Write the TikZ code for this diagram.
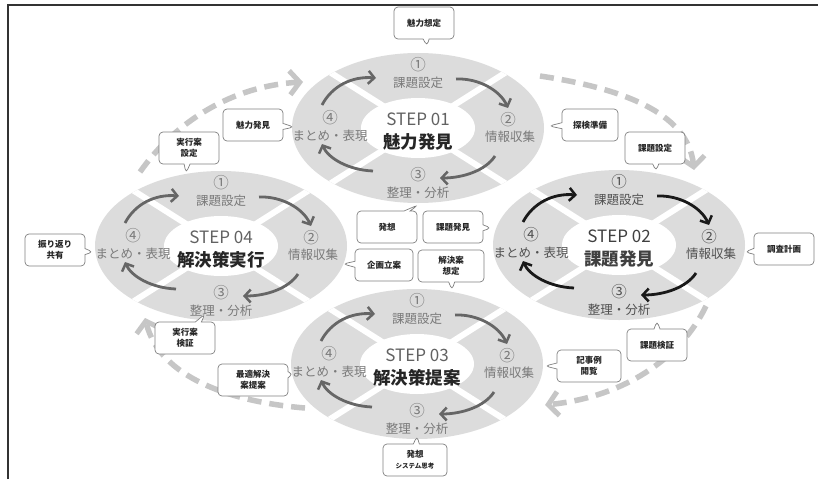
\documentclass[tikz,border=0pt]{standalone}
\usepackage{fontspec}
\setmainfont{Noto Sans CJK JP}
\usetikzlibrary{arrows.meta,shapes.callouts}
\definecolor{ringgray}{HTML}{DCDCDC}
\definecolor{dashgray}{HTML}{C6C6C6}
\definecolor{lblgray}{HTML}{7A7A7A}
\definecolor{arrgray}{HTML}{666666}
\definecolor{darklbl}{HTML}{505050}
\definecolor{framecol}{HTML}{333333}
\tikzset{
  ringarrow/.style={line width=2.8pt, -{Straight Barb[length=6pt,width=13pt,line width=2.5pt]}},
  bigdash/.style={dashgray, line width=5.5pt, dash pattern=on 14pt off 8pt, -{Straight Barb[length=10pt,width=24pt,line width=5pt]}},
  lbl/.style={font=\fontsize{12.5}{14}\selectfont, inner sep=0pt},
  numlbl/.style={font=\fontsize{15.5}{16}\selectfont, inner sep=0pt},
  steplbl/.style={font=\fontsize{17}{19}\selectfont, inner sep=0pt},
  titlelbl/.style={font=\fontsize{17.5}{19}\selectfont\bfseries, inner sep=0pt},
  bubble/.style={rectangle callout, rounded corners=4pt, draw=black!50, fill=white, line width=0.7pt,
    font=\fontsize{8.5}{11}\selectfont\bfseries, text=black!85, align=center,
    minimum width=60pt, minimum height=32pt, inner sep=2pt, callout pointer width=6pt},
}
% #1 cx, #2 cy, #3 label colour, #4 arrow colour, #5 step text, #6 title, #7 title colour, #8 name
\newcommand\stepring[8]{%
\begin{scope}[shift={(#1,#2)}]
  \fill[ringgray] (0,0) ellipse [x radius=126, y radius=75];
  \begin{scope}
    \clip (0,0) ellipse [x radius=126, y radius=75];
    \draw[white, line width=6pt] (-150,-95) -- (150,95);
    \draw[white, line width=6pt] (-150,95) -- (150,-95);
  \end{scope}
  \fill[white] (0,0) ellipse [x radius=57, y radius=30];
  \node[numlbl,text=#3] (#8-c1) at (0,-63) {①};
  \node[lbl,text=#3] (#8-t1) at (0,-45) {課題設定};
  \node[numlbl,text=#3] (#8-c2) at (90,-8) {②};
  \node[lbl,text=#3] (#8-t2) at (92,9) {情報収集};
  \node[numlbl,text=#3] (#8-c3) at (0,47) {③};
  \node[lbl,text=#3] (#8-t3) at (0,65) {整理・分析};
  \node[numlbl,text=#3] (#8-c4) at (-88,-10) {④};
  \node[lbl,text=#3] (#8-t4) at (-88,8) {まとめ・表現};
  \node[steplbl,text=#3!80!black] (#8-s) at (0,-9) {#5};
  \node[titlelbl,text=#7] (#8-n) at (0,14) {#6};
  \coordinate (#8-a1s) at (-96,-23); \coordinate (#8-a1e) at (-42,-50);
  \coordinate (#8-a2s) at (38,-49);  \coordinate (#8-a2e) at (90,-20);
  \coordinate (#8-a3s) at (77,28);   \coordinate (#8-a3e) at (22,50);
  \coordinate (#8-a4s) at (-45,43);  \coordinate (#8-a4e) at (-96,16);
  \draw[ringarrow,#4] (#8-a1s) .. controls (-86,-42) and (-66,-52) .. (#8-a1e);
  \draw[ringarrow,#4] (#8-a2s) .. controls (60,-50) and (82,-38) .. (#8-a2e);
  \draw[ringarrow,#4] (#8-a3s) .. controls (68,42) and (46,50) .. (#8-a3e);
  \draw[ringarrow,#4] (#8-a4s) .. controls (-70,42) and (-90,30) .. (#8-a4e);
\end{scope}}
\begin{document}
\begin{tikzpicture}[x=1pt,y=-1pt]
\useasboundingbox (0,0) rectangle (818,479);
\fill[white] (0,0) rectangle (818,479);
\draw[framecol, line width=2pt] (8,479) -- (8,5) -- (818,5);

% dashed cycle arrows
\coordinate (d1s) at (140,172); \coordinate (d1e) at (303,82);
\coordinate (d2s) at (540,76);  \coordinate (d2e) at (694,170);
\coordinate (d3s) at (706,306); \coordinate (d3e) at (545,405);
\coordinate (d4s) at (305,408); \coordinate (d4e) at (145,318);
\draw[bigdash] (d1s) .. controls (175,122) and (232,86) .. (d1e);
\draw[bigdash] (d2s) .. controls (620,88) and (688,112) .. (d2e);
\draw[bigdash] (d3s) .. controls (680,360) and (622,397) .. (d3e);
\draw[bigdash] (d4s) .. controls (232,402) and (160,378) .. (d4e);

\stepring{418}{128}{lblgray}{arrgray}{STEP 01}{魅力発見}{black!85}{s1}
\stepring{619}{245}{darklbl}{black!90}{STEP 02}{課題発見}{black!75}{s2}
\stepring{417}{364}{lblgray}{arrgray}{STEP 03}{解決策提案}{black!85}{s3}
\stepring{221}{246}{lblgray}{arrgray}{STEP 04}{解決策実行}{black!85}{s4}

% callouts
\node[bubble, callout absolute pointer={(427,46)}] (b1) at (424,23) {魅力想定};
\node[bubble, callout absolute pointer={(294,127)}] (b2) at (253,125) {魅力発見};
\node[bubble, callout absolute pointer={(186,173)}] (b3) at (189,148) {実行案\\設定};
\node[bubble, minimum width=56pt, callout absolute pointer={(549,126)}] (b4) at (590,125) {探検準備};
\node[bubble, callout absolute pointer={(656,171)}] (b5) at (655,148) {課題設定};
\node[bubble, callout absolute pointer={(745,252)}] (b6) at (784,249) {調査計画};
\node[bubble, callout absolute pointer={(657,321)}] (b7) at (657,345) {課題検証};
\node[bubble, minimum width=64pt, callout absolute pointer={(545,366)}] (b8) at (589,366) {記事例\\閲覧};
\node[bubble, minimum width=64pt, callout absolute pointer={(417,436)}] (b9) at (415,460) {発想\\{\fontsize{6.5}{8}\selectfont システム思考}};
\node[bubble, minimum width=70pt, callout absolute pointer={(293,374)}] (b10) at (253,380) {最適解決\\案提案};
\node[bubble, callout absolute pointer={(205,314)}] (b11) at (185,338) {実行案\\検証};
\node[bubble, callout absolute pointer={(93,252)}] (b12) at (55,250) {振り返り\\共有};
\node[bubble, callout absolute pointer={(418,205)}] (b13) at (387,227) {発想};
\node[bubble, callout absolute pointer={(491,228)}] (b14) at (453,227) {課題発見};
\node[bubble, minimum width=58pt, callout absolute pointer={(343,264)}] (b15) at (384,265) {企画立案};
\node[bubble, minimum width=66pt, callout absolute pointer={(452,290)}] (b16) at (451,266) {解決案\\想定};
\end{tikzpicture}
\end{document}
